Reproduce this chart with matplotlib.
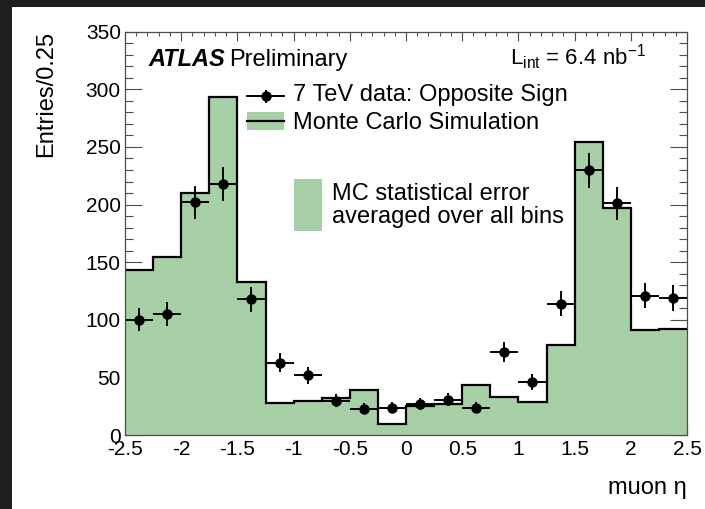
import numpy as np
import matplotlib
matplotlib.use("Agg")
import matplotlib.pyplot as plt
from matplotlib.patches import Rectangle
from matplotlib.lines import Line2D
from matplotlib.transforms import Affine2D
from matplotlib.ticker import MultipleLocator

plt.rcParams['font.family'] = ['Liberation Sans', 'DejaVu Sans']
plt.rcParams['mathtext.fontset'] = 'custom'
plt.rcParams['mathtext.rm'] = 'Liberation Sans'
plt.rcParams['mathtext.it'] = 'Liberation Sans:italic'
plt.rcParams['axes.unicode_minus'] = False

# Muon pseudorapidity binning (20 bins of width 0.25)
eta_lo, eta_hi, bin_w = -2.5, 2.5, 0.25
edges = np.arange(eta_lo, eta_hi + bin_w / 2, bin_w)
centers = 0.5 * (edges[:-1] + edges[1:])

# Monte Carlo expectation per bin
mc_counts = [143, 155, 210, 293, 133, 28, 30, 32, 39, 10,
             25, 27, 44, 33, 29, 78, 254, 197, 91, 92]
# 7 TeV opposite-sign data per bin
data_counts = [100, 105, 202, 218, 118, 63, 52, 30, 23, 24,
               27, 31, 24, 72, 46, 114, 230, 201, 121, 119]

x_ticks = [-2.5, -2, -1.5, -1, -0.5, 0, 0.5, 1, 1.5, 2, 2.5]
x_ticklabels = ['-2.5', '-2', '-1.5', '-1', '-0.5', '0', '0.5', '1', '1.5', '2', '2.5']
y_ticks = [0, 50, 100, 150, 200, 250, 300, 350]

green = '#a6cfa6'
frame = '#4d4d4d'

W, H = 705, 509
fig = plt.figure(figsize=(W / 100, H / 100), dpi=100)
fig.patch.set_facecolor('#1e1e1e')
# pixel-based transform (origin top-left) for annotations
px = Affine2D().scale(1 / W, -1 / H).translate(0, 1) + fig.transFigure
fig.add_artist(Rectangle((12, 7), W - 12, H - 7, transform=px,
                         facecolor='white', edgecolor='none', zorder=-10))

ax = fig.add_axes([125 / W, 1 - 435.3 / H, (687 - 125) / W, (435.3 - 31.6) / H])
ax.set_axisbelow(True)

data = np.array(data_counts, dtype=float)
mc = np.array(mc_counts, dtype=float)

ax.stairs(mc, edges, fill=True, color=green, zorder=1)
ax.stairs(mc, edges, baseline=None, color='black', lw=1.6, zorder=2)
ax.errorbar(centers, data, yerr=np.sqrt(data), xerr=bin_w / 2, fmt='o',
            color='black', ms=6.5, elinewidth=1.4, capsize=0, zorder=3)

ax.set_xlim(eta_lo, eta_hi)
ax.set_ylim(0, 350)
ax.set_xticks(x_ticks)
ax.set_xticklabels(x_ticklabels)
ax.set_yticks(y_ticks)
ax.xaxis.set_minor_locator(MultipleLocator(0.1))
ax.yaxis.set_minor_locator(MultipleLocator(10))

for s in ax.spines.values():
    s.set_color(frame)
    s.set_linewidth(0.9)
    s.set_zorder(4)

ax.tick_params(axis='both', which='both', direction='in', color=frame,
               width=0.8, labelsize=15, top=True, right=True)
ax.tick_params(axis='y', which='major', length=12.2, pad=3)
ax.tick_params(axis='y', which='minor', length=5.8)
ax.tick_params(axis='x', which='major', length=6.8, pad=3.5)
ax.tick_params(axis='x', which='minor', length=2.9)

# Axis titles
fig.text(46, 31, 'Entries/0.25', transform=px, rotation=90,
         ha='center', va='top', fontsize=17)
fig.text(687, 494, 'muon η', transform=px, ha='right', va='baseline', fontsize=17)

# Labels
fig.text(148, 66, 'ATLAS', transform=px, fontsize=17, fontweight='bold',
         fontstyle='italic', va='baseline')
fig.text(229, 66, 'Preliminary', transform=px, fontsize=17, va='baseline')
fig.text(510, 65, r'L$_{\mathrm{int}}$ = 6.4 nb$^{\mathrm{-1}}$', transform=px,
         fontsize=16, va='baseline')

# Legend
fig.add_artist(Line2D([247, 284], [96.5, 96.5], transform=px, color='black', lw=1.4))
fig.add_artist(Line2D([265.5, 265.5], [91, 102], transform=px, color='black', lw=1.4))
fig.add_artist(Line2D([265.5], [96.5], transform=px, color='black', marker='o', ms=6.5))
fig.text(293, 101.5, '7 TeV data: Opposite Sign', transform=px, fontsize=17, va='baseline')

fig.add_artist(Rectangle((247, 112), 37, 18, transform=px, facecolor=green, edgecolor='none'))
fig.add_artist(Line2D([247, 284], [121, 121], transform=px, color='black', lw=1.6))
fig.text(293, 129, 'Monte Carlo Simulation', transform=px, fontsize=17, va='baseline')

fig.add_artist(Rectangle((294, 179), 28, 51.5, transform=px, facecolor=green, edgecolor='none'))
fig.text(332, 199.5, 'MC statistical error', transform=px, fontsize=17, va='baseline')
fig.text(332, 223, 'averaged over all bins', transform=px, fontsize=17, va='baseline')

fig.savefig('out.png', dpi=100, facecolor=fig.get_facecolor())
